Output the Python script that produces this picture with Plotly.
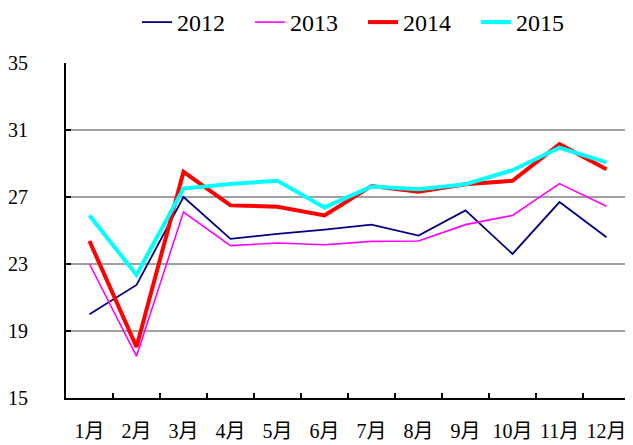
import plotly.graph_objects as go

months = ["1月", "2月", "3月", "4月", "5月", "6月", "7月", "8月", "9月", "10月", "11月", "12月"]
y2012 = [20.0, 21.75, 27.0, 24.5, 24.8, 25.05, 25.35, 24.7, 26.2, 23.6, 26.7, 24.6]
y2013 = [23.0, 17.5, 26.1, 24.1, 24.25, 24.15, 24.35, 24.37, 25.35, 25.9, 27.8, 26.45]
y2014 = [24.37, 18.05, 28.5, 26.5, 26.42, 25.9, 27.66, 27.32, 27.76, 27.97, 30.15, 28.65]
y2015 = [25.9, 22.35, 27.5, 27.78, 27.97, 26.38, 27.62, 27.46, 27.76, 28.6, 29.94, 29.07]
y_ticks = [15, 19, 23, 27, 31, 35]

series = [
    ("2012", y2012, "#000080", 1.8),
    ("2013", y2013, "#FF00FF", 1.6),
    ("2014", y2014, "#FF0000", 4),
    ("2015", y2015, "#00FFFF", 4),
]

FONT = "Liberation Serif, Noto Sans CJK SC, serif"

W, H = 625, 437
ML, MR, MT, MB = 58, 3, 55, 47
PH = H - MT - MB

fig = go.Figure()
for name, ys, color, w in series:
    fig.add_trace(go.Scatter(x=months, y=ys, name=name, mode="lines",
                             line=dict(color=color, width=w)))

fig.update_layout(
    width=W, height=H,
    margin=dict(l=ML, r=MR, t=MT, b=MB, autoexpand=False),
    paper_bgcolor="white", plot_bgcolor="white",
    font=dict(family=FONT, size=20, color="black"),
    legend=dict(orientation="h", x=129 / W, xanchor="left", xref="container",
                y=1 + (MT + 8) / PH, yanchor="top", yref="paper",
                font=dict(size=24, family=FONT),
                entrywidth=68, entrywidthmode="pixels",
                itemwidth=30, tracegroupgap=0),
    showlegend=True,
)

fig.update_xaxes(
    type="category", tickson="boundaries", ticks="inside", ticklen=5, tickwidth=2,
    tickcolor="black", showline=True, linecolor="black", linewidth=2,
    showgrid=False, tickfont=dict(size=20, family=FONT), ticklabelstandoff=14,
    tickangle=0, automargin=False, range=[-0.5, 11.5],
)
fig.update_yaxes(
    range=[15, 35], tickvals=y_ticks, ticks="inside", ticklen=5, tickwidth=2,
    tickcolor="black", showline=True, linecolor="black", linewidth=2,
    showgrid=True, gridcolor="#a0a0a0", gridwidth=2, zeroline=False,
    tickfont=dict(size=20, family=FONT), ticklabelstandoff=32, automargin=False,
)

fig.write_html("out.html")
